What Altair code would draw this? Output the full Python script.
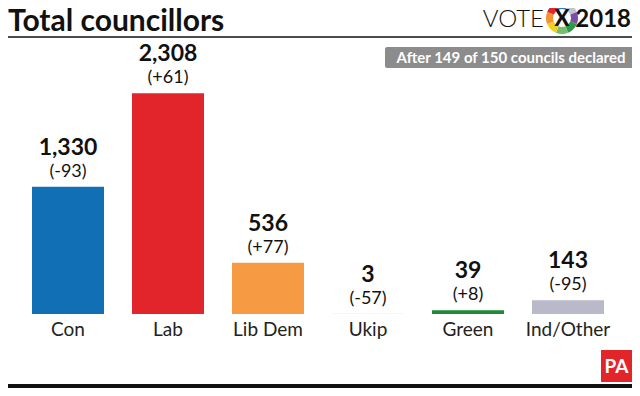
import altair as alt
import pandas as pd

parties = ["Con", "Lab", "Lib Dem", "Ukip", "Green", "Ind/Other"]
seats = [1330, 2308, 536, 3, 39, 143]
changes = ["(-93)", "(+61)", "(+77)", "(-57)", "(+8)", "(-95)"]
bar_colors = ["#1170b5", "#e2242b", "#f79a44", "#d6d6e2", "#1f8a3a", "#b9b9c9"]

logo_colors = ["#2b7ec3", "#c3c3cc", "#7b4fa6", "#2e9a48", "#74bf6c", "#f2d022", "#f39332", "#e2262c"]

title_text = "Total councillors"
note_text = "After 149 of 150 councils declared"

FONT = "Lato"

df = pd.DataFrame({
    "party": parties,
    "seats": seats,
    "label": [f"{v:,}" for v in seats],
    "change": changes,
    "color": bar_colors,
})

xenc = alt.X("party:N", sort=parties,
             scale=alt.Scale(range=[10, 610], paddingInner=0.28, paddingOuter=0.14),
             axis=None)
yenc = alt.Y("seats:Q", scale=alt.Scale(domain=[0, 3200], range=[306, 0]), axis=None)

base = alt.Chart(df)

bars = base.mark_bar().encode(
    x=xenc, y=yenc, color=alt.Color("color:N", scale=None)
)

value_lbl = base.mark_text(font=FONT, fontSize=23, fontWeight="bold", dy=-39,
                           baseline="middle", color="#111").encode(
    x=xenc, y=yenc, text="label:N")

change_lbl = base.mark_text(font=FONT, fontSize=18, dy=-15, baseline="middle",
                            color="#111").encode(
    x=xenc, y=yenc, text="change:N")

cat_lbl = base.mark_text(font=FONT, fontSize=19, baseline="middle", color="#222").encode(
    x=xenc, y=alt.value(322), text="party:N")

one = alt.Data(values=[{"a": 1}])

title = alt.Chart(one).mark_text(font=FONT, fontSize=30, fontWeight="bold", align="left",
                                 baseline="alphabetic", color="#111").encode(
    x=alt.value(0), y=alt.value(23), text=alt.value(title_text))

rule_top = alt.Chart(one).mark_rule(color="#111", strokeWidth=1.5).encode(
    x=alt.value(0), x2=alt.value(624), y=alt.value(29))

rule_bottom = alt.Chart(one).mark_rule(color="#111", strokeWidth=4).encode(
    x=alt.value(0), x2=alt.value(624), y=alt.value(378))

vote = alt.Chart(one).mark_text(font=FONT, fontSize=24, fontWeight=300, align="right",
                                baseline="alphabetic", color="#111").encode(
    x=alt.value(536), y=alt.value(19), text=alt.value("VOTE"))

year = alt.Chart(one).mark_text(font=FONT, fontSize=24, fontWeight="bold", align="right",
                                baseline="alphabetic", color="#111").encode(
    x=alt.value(623), y=alt.value(19), text=alt.value("2018"))

logo_df = pd.DataFrame({"seg": list(range(8)), "v": [1] * 8, "c": logo_colors})
logo = alt.Chart(logo_df).mark_arc(innerRadius=9, outerRadius=16).encode(
    theta=alt.Theta("v:Q", stack=True, scale=alt.Scale(range=[5.8905, 12.1737])),
    order=alt.Order("seg:Q"),
    color=alt.Color("c:N", scale=None),
    x=alt.value(554), y=alt.value(10))

logo_x = alt.Chart(one).mark_text(font=FONT, fontSize=22, fontWeight=900, align="center",
                                  baseline="middle", color="#111").encode(
    x=alt.value(554), y=alt.value(11), text=alt.value("X"))

note_box = alt.Chart(one).mark_rect(color="#8c8c8c", cornerRadius=2).encode(
    x=alt.value(377), x2=alt.value(629), y=alt.value(39), y2=alt.value(60))

note = alt.Chart(one).mark_text(font=FONT, fontSize=15, fontWeight="bold", align="center",
                                baseline="middle", color="white").encode(
    x=alt.value(503), y=alt.value(50), text=alt.value(note_text))

pa_box = alt.Chart(one).mark_rect(color="#e2242b").encode(
    x=alt.value(593), x2=alt.value(624), y=alt.value(342), y2=alt.value(374))

pa = alt.Chart(one).mark_text(font=FONT, fontSize=19, fontWeight="bold", align="center",
                              baseline="middle", color="white").encode(
    x=alt.value(608.5), y=alt.value(358.5), text=alt.value("PA"))

chart = alt.layer(
    bars, value_lbl, change_lbl, cat_lbl,
    title, rule_top, rule_bottom, vote, year, logo, logo_x,
    note_box, note, pa_box, pa
).properties(
    width=624, height=380, padding=0, autosize=alt.AutoSizeParams(type="none"),
    background="white"
).configure_view(stroke=None)

chart.save("out.html", embed_options={"renderer": "svg", "actions": False})
